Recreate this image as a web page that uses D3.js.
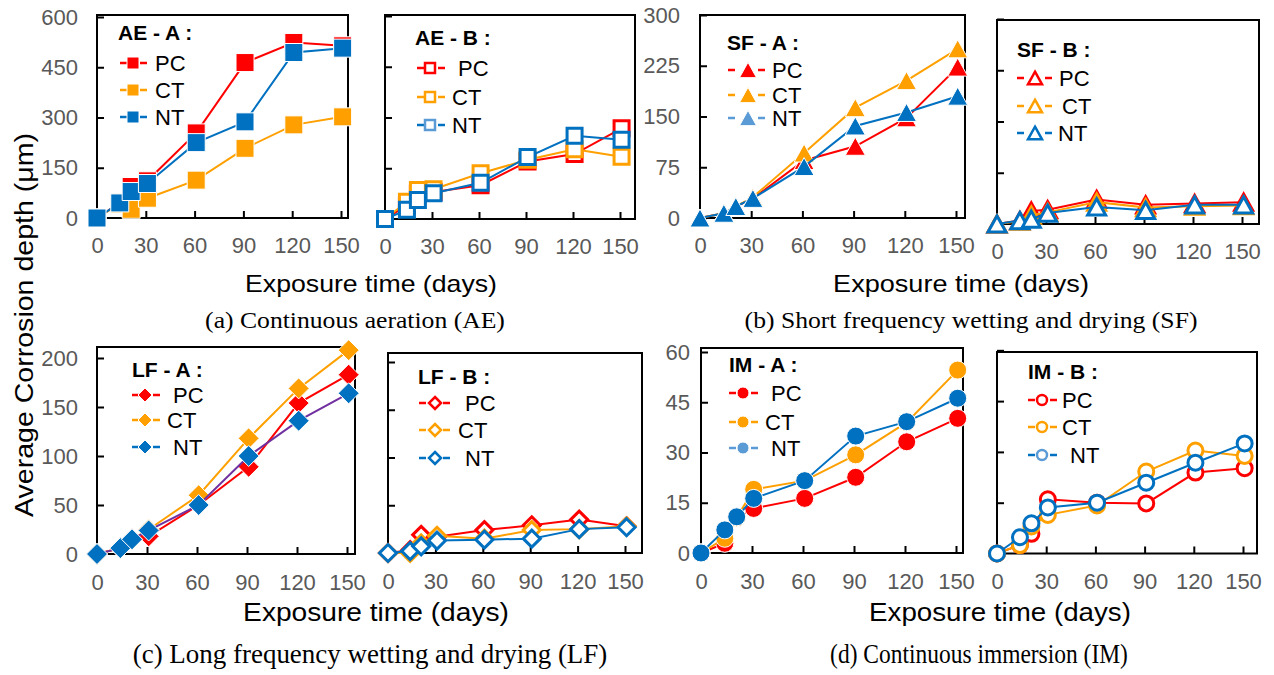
<!DOCTYPE html>
<html>
<head>
<meta charset="utf-8">
<script src="https://cdn.jsdelivr.net/npm/d3@7"></script>
<style>
  body { margin: 0; background: #fff; }
  svg { display: block; }
  .tick-text { font-family: 'Liberation Sans', Arial, sans-serif; font-size: 22px; fill: #595959; }
  .leg-title { font-family: 'Liberation Sans', Arial, sans-serif; font-size: 21px; font-weight: bold; fill: #000; }
  .leg-label { font-family: 'Liberation Sans', Arial, sans-serif; font-size: 22px; fill: #000; }
  .x-title { font-family: 'Liberation Sans', Arial, sans-serif; fill: #000; }
  .caption { font-family: 'Liberation Serif', 'Times New Roman', serif; fill: #000; }
</style>
</head>
<body>
<svg id="chart" width="1274" height="675"></svg>
<script>
'use strict';

(() => {

  //sampling days and axis ticks
  const days = [0, 14, 21, 31, 61, 91, 121, 151];
  const xTicks = [0, 30, 60, 90, 120, 150];
  const series = ['PC', 'CT', 'NT'];

  const aeTicks = [0, 150, 300, 450, 600];
  const sfTicks = [0, 75, 150, 225, 300];
  const lfTicks = [0, 50, 100, 150, 200];
  const imTicks = [0, 15, 30, 45, 60];

  //corrosion depth (um) - continuous aeration
  const aeA_PC = [0, 45, 94, 111, 254, 464, 524, 514];
  const aeA_CT = [0, 42, 26, 59, 113, 208, 278, 302];
  const aeA_NT = [0, 45, 79, 103, 225, 287, 494, 507];
  const aeB_PC = [0, 40, 75, 80, 100, 170, 192, 268];
  const aeB_CT = [0, 51, 86, 88, 135, 175, 206, 184];
  const aeB_NT = [0, 27, 56, 76, 107, 183, 246, 234];
  //short frequency wetting and drying
  const sfA_PC = [0, 7, 17, 29, 85, 106, 148, 223];
  const sfA_CT = [0, 7, 17, 31, 96, 163, 203, 250];
  const sfA_NT = [0, 7, 17, 29, 76, 136, 156, 180];
  const sfB_PC = [0, 5, 19, 21, 36, 28, 30, 32];
  const sfB_CT = [0, 4, 13, 17, 32, 24, 26, 27];
  const sfB_NT = [0, 5, 7, 16, 25, 20, 28, 28];
  //long frequency wetting and drying
  const lfA_PC = [0, 6, 15, 18, 50, 89, 154, 183];
  const lfA_CT = [0, 6, 15, 25, 60, 118, 169, 208];
  const lfA_NT = [0, 6, 15, 24, 50, 100, 136, 164];
  const lfB_PC = [0, 3, 19, 17, 24, 29, 35, 28];
  const lfB_CT = [0, 0, 10, 18, 15, 24, 25, 28];
  const lfB_NT = [0, 2, 7, 13, 14, 15, 25, 27];
  //continuous immersion
  const imA_PC = [0, 2.9, 10.5, 13.3, 16.3, 22.6, 33.2, 40.2];
  const imA_CT = [0, 4.4, 10.5, 19, 21.6, 29.3, 39, 54.6];
  const imA_NT = [0, 6.9, 10.8, 16.3, 21.6, 34.9, 39.2, 46.2];
  const imB_PC = [0, 2.5, 5.8, 16, 15, 14.8, 23.9, 25.2];
  const imB_CT = [0, 2.5, 8, 11.4, 14.2, 24.2, 30.4, 28.8];
  const imB_NT = [0, 4.8, 8.9, 13.6, 15, 20.9, 26.8, 32.5];

  const colors = { PC: '#ff0000', CT: '#ffa000', NT: '#0070c0' };
  const lightBlue = '#5b9bd5';

  //panel layout: x0/x150 = pixel of day 0/150, y0/yMax = pixel of value 0/max
  const panels = [
    { title: 'AE - A :', vals: [aeA_PC, aeA_CT, aeA_NT], ticks: aeTicks, shape: 'square', hollow: false,
      x0: 97, x150: 341, right: 348, y0: 218, yMax: 17, top: 15, labels: true, labPad: 19, row: 0,
      leg: { tx: 118, ty: 40, rows: [63, 90, 117], lx0: 120, lx1: 147, mx: 133, lab: [155, 155, 155], ntLight: false } },
    { title: 'AE - B :', vals: [aeB_PC, aeB_CT, aeB_NT], ticks: aeTicks, shape: 'square', hollow: true,
      x0: 385, x150: 620, right: 635, y0: 219, yMax: 16, top: 15, labels: false, row: 0,
      leg: { tx: 415, ty: 45, rows: [68, 97, 125], lx0: 417, lx1: 445, mx: 430, lab: [458, 452, 452], ntLight: true } },
    { title: 'SF - A :', vals: [sfA_PC, sfA_CT, sfA_NT], ticks: sfTicks, shape: 'triangle', hollow: false,
      x0: 700, x150: 956, right: 965, y0: 218, yMax: 15, top: 15, labels: true, labPad: 20, row: 0,
      leg: { tx: 727, ty: 50, rows: [70, 95, 118], lx0: 728, lx1: 765, mx: 748, lab: [772, 772, 772], ntLight: true } },
    { title: 'SF - B :', vals: [sfB_PC, sfB_CT, sfB_NT], ticks: sfTicks, shape: 'triangle', hollow: true,
      x0: 997, x150: 1242, right: 1259, y0: 224, yMax: 19, top: 20, labels: false, row: 0,
      leg: { tx: 1017, ty: 57, rows: [78, 106, 133], lx0: 1017, lx1: 1052, mx: 1035, lab: [1059, 1062, 1058], ntLight: false } },
    { title: 'LF - A :', vals: [lfA_PC, lfA_CT, lfA_NT], ticks: lfTicks, shape: 'diamond', hollow: false,
      x0: 97, x150: 347, right: 355, y0: 554, yMax: 358, top: 347, labels: true, labPad: 19, row: 1, ntLine: '#7030a0',
      leg: { tx: 132, ty: 377, rows: [395, 420, 447], lx0: 132, lx1: 160, mx: 145, lab: [173, 167, 173], ntLight: false } },
    { title: 'LF - B :', vals: [lfB_PC, lfB_CT, lfB_NT], ticks: lfTicks, shape: 'diamond', hollow: true,
      x0: 388, x150: 625, right: 642, y0: 553, yMax: 362, top: 353, labels: false, row: 1,
      leg: { tx: 418, ty: 384, rows: [403, 430, 458], lx0: 419, lx1: 450, mx: 435, lab: [465, 458, 465], ntLight: false } },
    { title: 'IM - A :', vals: [imA_PC, imA_CT, imA_NT], ticks: imTicks, shape: 'circle', hollow: false,
      x0: 701, x150: 956, right: 963, y0: 553, yMax: 352, top: 348, labels: true, labPad: 11, row: 1,
      leg: { tx: 729, ty: 372, rows: [393, 422, 448], lx0: 729, lx1: 758, mx: 743, lab: [771, 765, 771], ntLight: true } },
    { title: 'IM - B :', vals: [imB_PC, imB_CT, imB_NT], ticks: imTicks, shape: 'circle', hollow: true,
      x0: 997, x150: 1243, right: 1257, y0: 553.5, yMax: 350.3, top: 352, labels: false, row: 1,
      leg: { tx: 1028, ty: 379, rows: [400, 427, 455], lx0: 1028, lx1: 1057, mx: 1042, lab: [1062, 1062, 1070], ntLight: true } }
  ];

  //marker sizes: [plot, legend]
  const sizes = {
    square: { filled: [9, 6], hollow: [7.5, 5] },
    triangle: { filled: [10, 8.5], hollow: [9, 7] },
    diamond: { filled: [10.5, 7], hollow: [8.5, 6] },
    circle: { filled: [9, 6], hollow: [7.5, 5] }
  };

  const markerPath = (shape, s) => {
    if (shape === 'square') return `M${-s},${-s}h${2 * s}v${2 * s}h${-2 * s}Z`;
    if (shape === 'triangle') return `M0,${-s * 0.9}L${s},${s * 0.9}L${-s},${s * 0.9}Z`;
    if (shape === 'diamond') return `M0,${-s}L${s},0L0,${s}L${-s},0Z`;
    return `M${-s},0A${s},${s} 0 1 1 ${s},0A${s},${s} 0 1 1 ${-s},0Z`;
  };

  const svg = d3.select('#chart');

  function drawMarker(g, p, cx, cy, color, isLegend) {
    const s = sizes[p.shape][p.hollow ? 'hollow' : 'filled'][isLegend ? 1 : 0];
    g.append('path')
      .attr('d', markerPath(p.shape, s))
      .attr('transform', `translate(${cx},${cy})`)
      .attr('fill', p.hollow ? '#fff' : color)
      .attr('stroke', p.hollow ? color : '#fff')
      .attr('stroke-width', p.hollow ? (isLegend ? 2.5 : 3) : 1);
  }

  //text stretched horizontally to a target width (glyphs scaled, not spaced)
  function fitText(cls, text, x, y, size, width, rotate) {
    const t = svg.append('text')
      .attr('class', cls)
      .attr('text-anchor', 'middle')
      .attr('font-size', size)
      .text(text);
    const sx = width / t.node().getComputedTextLength();
    t.attr('transform', `translate(${x},${y})${rotate ? ` rotate(${rotate})` : ''} scale(${sx},1)`);
  }

  panels.forEach((p) => {
    const g = svg.append('g');
    const ymax = p.ticks[p.ticks.length - 1];
    const x = d3.scaleLinear().domain([0, 150]).range([p.x0, p.x150]);
    const y = d3.scaleLinear().domain([0, ymax]).range([p.y0, p.yMax]);

    //frame
    g.append('rect')
      .attr('x', p.x0)
      .attr('y', p.top)
      .attr('width', p.right - p.x0)
      .attr('height', p.y0 - p.top)
      .attr('fill', 'none')
      .attr('stroke', '#000')
      .attr('stroke-width', 2);

    //x axis, ticks pointing inward
    const xAxis = g.append('g')
      .attr('transform', `translate(0,${p.y0})`)
      .call(d3.axisBottom(x).tickValues(xTicks).tickSizeInner(-7).tickSizeOuter(0).tickPadding(p.row === 0 ? 19 : 20));
    xAxis.select('.domain').remove();
    xAxis.selectAll('line').attr('stroke', '#000').attr('stroke-width', 2);
    xAxis.selectAll('text').attr('class', 'tick-text').attr('font-size', null).attr('font-family', null).attr('fill', null);

    //y axis
    const yAxis = g.append('g')
      .attr('transform', `translate(${p.x0},0)`)
      .call(d3.axisLeft(y).tickValues(p.ticks).tickSizeInner(-7).tickSizeOuter(0).tickPadding(p.labPad || 10));
    yAxis.select('.domain').remove();
    yAxis.selectAll('line').attr('stroke', '#000').attr('stroke-width', 2);
    if (p.labels) {
      yAxis.selectAll('text').attr('class', 'tick-text').attr('font-size', null).attr('font-family', null).attr('fill', null);
    } else {
      yAxis.selectAll('text').remove();
    }

    //series, NT drawn last so it sits on top
    series.forEach((name, si) => {
      const vals = p.vals[si];
      const color = colors[name];
      const line = d3.line().x((d, i) => x(days[i])).y((d) => y(d));
      g.append('path')
        .datum(vals)
        .attr('d', line)
        .attr('fill', 'none')
        .attr('stroke', name === 'NT' && p.ntLine ? p.ntLine : color)
        .attr('stroke-width', 2);
      vals.forEach((v, i) => drawMarker(g, p, x(days[i]), y(v), color, false));
    });

    //legend
    const L = p.leg;
    g.append('text')
      .attr('x', L.tx)
      .attr('y', L.ty)
      .attr('class', 'leg-title')
      .text(p.title);
    series.forEach((name, si) => {
      const cy = L.rows[si];
      const color = name === 'NT' && L.ntLight ? lightBlue : colors[name];
      const lineColor = name === 'NT' && L.ntLight && !p.hollow ? lightBlue : colors[name];
      [[L.lx0, L.lx0 + 7], [L.lx1 - 7, L.lx1]].forEach((seg) => {
        g.append('line')
          .attr('x1', seg[0])
          .attr('x2', seg[1])
          .attr('y1', cy)
          .attr('y2', cy)
          .attr('stroke', lineColor)
          .attr('stroke-width', 2.5);
      });
      drawMarker(g, p, L.mx, cy, color, true);
      g.append('text')
        .attr('x', L.lab[si])
        .attr('y', cy + 8)
        .attr('class', 'leg-label')
        .text(name);
    });
  });

  //shared axis titles and captions
  fitText('x-title', 'Exposure time (days)', 371, 292, 24, 252);
  fitText('x-title', 'Exposure time (days)', 961, 292, 24, 256);
  fitText('x-title', 'Exposure time (days)', 376, 621, 26, 266);
  fitText('x-title', 'Exposure time (days)', 1000, 621, 26, 262);

  fitText('caption', '(a) Continuous aeration (AE)', 355, 328, 24, 300);
  fitText('caption', '(b) Short frequency wetting and drying (SF)', 971, 328, 24, 453);
  fitText('caption', '(c) Long frequency wetting and drying (LF)', 370, 663, 27, 475);
  fitText('caption', '(d) Continuous immersion (IM)', 979, 663, 27, 298);

  fitText('x-title', 'Average Corrosion depth (μm)', 33, 325, 26, 384, -90);

})();
</script>
</body>
</html>
